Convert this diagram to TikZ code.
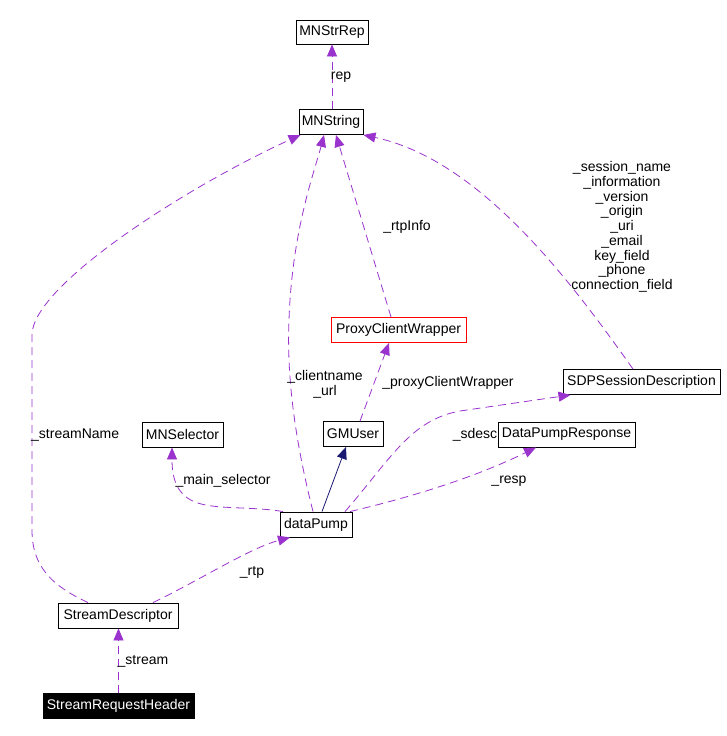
\documentclass[tikz,border=0pt]{standalone}
\usepackage{fontspec}
\setmainfont{Liberation Sans}
\usetikzlibrary{arrows.meta,calc,positioning}
\definecolor{membercol}{HTML}{9A32CD}
\definecolor{basecol}{HTML}{191970}

\begin{document}
\begin{tikzpicture}[
  x=1pt, y=-1pt,
  font=\fontsize{14}{14.7}\selectfont,
  cls/.style={
    draw=black,
    line width=0.9pt,
    minimum height=25pt,
    inner xsep=0pt,
    inner ysep=0pt,
    fill=white
  },
  current/.style={cls, fill=black, text=white},
  usage/.style={-{Triangle[length=12pt,width=10pt]}, line width=0.8pt, draw=membercol, dash pattern=on 8pt off 5pt},
  base/.style={-{Triangle[length=12pt,width=10pt]}, line width=0.8pt, draw=basecol},
  lbl/.style={inner sep=0pt, align=center}
]
\useasboundingbox (0,0) rectangle (727,736);

\node[cls, minimum width=72pt, minimum height=24pt] (strrep) at (332,32) {MNStrRep};
\node[cls, minimum width=64pt] (mnstring) at (331,122) {MNString};
\node[cls, draw=red, minimum width=135pt] (proxy) at (398.5,330) {ProxyClientWrapper};
\node[cls, minimum width=157pt] (sdp) at (641.5,382) {SDPSessionDescription};
\node[cls, minimum width=60pt] (gmuser) at (353,434) {GMUser};
\node[cls, minimum width=137pt] (response) at (566.5,434.5) {DataPumpResponse};
\node[cls, minimum width=81pt] (selector) at (182.5,434.5) {MNSelector};
\node[cls, minimum width=72pt] (pump) at (316,524.5) {dataPump};
\node[cls, minimum width=120pt] (descr) at (118,615.5) {StreamDescriptor};
\node[current, minimum width=151pt] (header) at (118.5,706) {StreamRequestHeader};

\draw[usage] (strrep.south |- mnstring.north) -- (strrep.south);
\draw[usage] ([xshift=-30pt]descr.north) .. controls (50,585) and (32,565) .. (32,530)
  -- (32,335) .. controls (32,285) and (190,185) .. ([xshift=2pt]mnstring.south west);
\draw[usage] ([xshift=-3pt]pump.north) .. controls (300,460) and (286,390) .. (289,320)
  .. controls (292,230) and (315,170) .. ([xshift=-7pt]mnstring.south);
\draw[usage] ([xshift=-7.5pt]proxy.north) -- ([xshift=5pt]mnstring.south);
\draw[usage] ([xshift=-8.5pt]sdp.north) .. controls (570,280) and (480,160) .. (mnstring.south east);
\draw[usage] ([xshift=7pt]gmuser.north) -- ([xshift=-9.5pt]proxy.south);
\draw[usage] ([xshift=29pt]pump.north) .. controls (390,460) and (410,420) .. (460,411)
  -- ([xshift=-71pt]sdp.south);
\draw[usage] ([xshift=34pt]pump.north) .. controls (420,495) and (480,475) .. ([xshift=-30.5pt]response.south);
\draw[usage] ([xshift=-33pt]pump.north) .. controls (250,506) and (215,510) .. (195,502)
  .. controls (175,494) and (172,475) .. ([xshift=-10.5pt]selector.south);
\draw[base] ([xshift=6pt]pump.north) -- ([xshift=-7pt]gmuser.south);
\draw[usage] ([xshift=35pt]descr.north) .. controls (200,580) and (250,548) .. ([xshift=-26pt]pump.south);
\draw[usage] (header.north) -- (header.north |- descr.south);

\node[lbl] (lrep) at (341,77) {rep};
\node[lbl, anchor=west] (lstreamname) at (31,435) {\_streamName};
\node[lbl] (lclient) at (325,384) {\_clientname\\\_url};
\node[lbl] (lrtpinfo) at (407,227) {\_rtpInfo};
\node[lbl] (lsdp) at (622,227) {\_session\_name\\\_information\\\_version\\\_origin\\\_uri\\\_email\\key\_field\\\_phone\\connection\_field};
\node[lbl] (lproxy) at (448,383) {\_proxyClientWrapper};
\node[lbl] (lsdesc) at (475,435) {\_sdesc};
\node[lbl] (lresp) at (509,481) {\_resp};
\node[lbl] (lselector) at (223,481) {\_main\_selector};
\node[lbl] (lrtp) at (252,572) {\_rtp};
\node[lbl] (lstream) at (143,661) {\_stream};

\end{tikzpicture}
\end{document}
